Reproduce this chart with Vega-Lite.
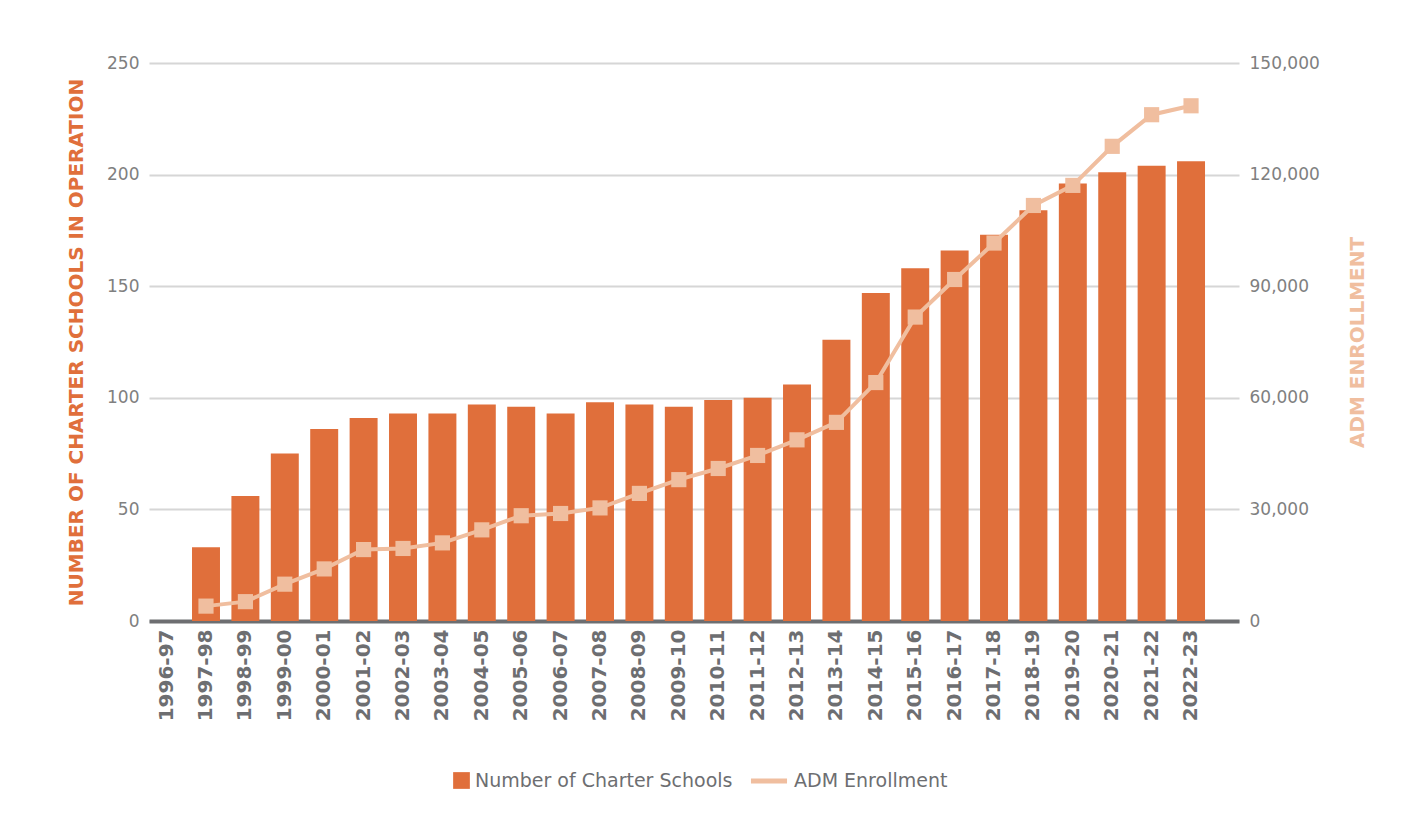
{
  "$schema": "https://vega.github.io/schema/vega-lite/v6.json",
  "width": 1090,
  "height": 558,
  "padding": {"left": 66, "top": 54, "right": 10, "bottom": 10},
  "background": "white",
  "config": {
    "view": {"stroke": null},
    "font": "DejaVu Sans",
    "legend": {"layout": {"bottom": {"anchor": "middle", "direction": "horizontal", "center": false, "margin": 4}}}
  },
  "data": {
    "values": [
      {"season": "1996-97", "schools": null, "adm": null},
      {"season": "1997-98", "schools": 33, "adm": 4000},
      {"season": "1998-99", "schools": 56, "adm": 5200},
      {"season": "1999-00", "schools": 75, "adm": 9900},
      {"season": "2000-01", "schools": 86, "adm": 14000},
      {"season": "2001-02", "schools": 91, "adm": 19200},
      {"season": "2002-03", "schools": 93, "adm": 19500},
      {"season": "2003-04", "schools": 93, "adm": 21000},
      {"season": "2004-05", "schools": 97, "adm": 24500},
      {"season": "2005-06", "schools": 96, "adm": 28300},
      {"season": "2006-07", "schools": 93, "adm": 28900},
      {"season": "2007-08", "schools": 98, "adm": 30400},
      {"season": "2008-09", "schools": 97, "adm": 34300},
      {"season": "2009-10", "schools": 96, "adm": 38000},
      {"season": "2010-11", "schools": 99, "adm": 41000},
      {"season": "2011-12", "schools": 100, "adm": 44500},
      {"season": "2012-13", "schools": 106, "adm": 48700},
      {"season": "2013-14", "schools": 126, "adm": 53400},
      {"season": "2014-15", "schools": 147, "adm": 64100},
      {"season": "2015-16", "schools": 158, "adm": 81700},
      {"season": "2016-17", "schools": 166, "adm": 91800},
      {"season": "2017-18", "schools": 173, "adm": 101600},
      {"season": "2018-19", "schools": 184, "adm": 111700},
      {"season": "2019-20", "schools": 196, "adm": 117100},
      {"season": "2020-21", "schools": 201, "adm": 127600},
      {"season": "2021-22", "schools": 204, "adm": 136100},
      {"season": "2022-23", "schools": 206, "adm": 138500}
    ]
  },
  "encoding": {
    "x": {
      "field": "season",
      "type": "ordinal",
      "sort": null,
      "scale": {
        "domain": ["1996-97","1997-98","1998-99","1999-00","2000-01","2001-02","2002-03","2003-04","2004-05","2005-06","2006-07","2007-08","2008-09","2009-10","2010-11","2011-12","2012-13","2013-14","2014-15","2015-16","2016-17","2017-18","2018-19","2019-20","2020-21","2021-22","2022-23"],
        "paddingInner": 0.29,
        "paddingOuter": 0.477,
        "align": 0.096
      },
      "axis": {
        "title": null,
        "labelAngle": -90,
        "labelFont": "DejaVu Sans",
        "labelFontWeight": "bold",
        "labelFontSize": 20,
        "labelColor": "#6d6e71",
        "labelPadding": 8,
        "ticks": false,
        "domainColor": "#6d6e71",
        "domainWidth": 4,
        "grid": false
      }
    }
  },
  "layer": [
    {
      "mark": {"type": "bar"},
      "encoding": {
        "y": {
          "field": "schools",
          "type": "quantitative",
          "scale": {"domain": [0, 250]},
          "axis": {
            "values": [0, 50, 100, 150, 200, 250],
            "title": "NUMBER OF CHARTER SCHOOLS IN OPERATION",
            "titleColor": "#E06F3B",
            "titleFont": "DejaVu Sans",
            "titleFontWeight": "bold",
            "titleFontSize": 20,
            "titlePadding": 20,
            "labelFontSize": 17,
            "labelColor": "#808080",
            "labelPadding": 10,
            "domain": false,
            "ticks": false,
            "grid": true,
            "gridColor": "#d6d6d6",
            "gridWidth": 2
          }
        },
        "color": {
          "datum": "Number of Charter Schools",
          "scale": {"range": ["#E06F3B"]},
          "legend": {
            "orient": "bottom",
            "title": null,
            "symbolType": "square",
            "symbolSize": 280,
            "symbolStrokeWidth": 0,
            "labelFontSize": 19,
            "labelLimit": 400,
            "labelColor": "#6d6e71",
            "padding": 11,
            "offset": 39
          }
        }
      }
    },
    {
      "encoding": {
        "y": {
          "field": "adm",
          "type": "quantitative",
          "scale": {"domain": [0, 150000]},
          "axis": {
            "orient": "right",
            "values": [0, 30000, 60000, 90000, 120000, 150000],
            "format": ",.0f",
            "title": "ADM ENROLLMENT",
            "titleAngle": 270,
            "titleColor": "#F0BE9F",
            "titleFont": "DejaVu Sans",
            "titleFontWeight": "bold",
            "titleFontSize": 20,
            "titlePadding": 48,
            "labelFontSize": 17,
            "labelColor": "#808080",
            "labelPadding": 10,
            "domain": false,
            "ticks": false,
            "grid": false
          }
        }
      },
      "layer": [
        {
          "mark": {"type": "line", "strokeWidth": 4},
          "encoding": {
            "stroke": {
              "datum": "ADM Enrollment",
              "scale": {"range": ["#F0BE9F"]},
              "legend": {
                "orient": "bottom",
                "title": null,
                "symbolType": "stroke",
                "symbolSize": 1300,
                "symbolStrokeWidth": 5,
                "labelFontSize": 19,
                "labelLimit": 400,
                "labelColor": "#6d6e71",
                "offset": 39
              }
            }
          }
        },
        {
          "mark": {"type": "point", "shape": "square", "filled": true, "size": 230, "color": "#F0BE9F", "opacity": 1},
          "encoding": {}
        }
      ]
    }
  ],
  "resolve": {"scale": {"y": "independent"}}
}
